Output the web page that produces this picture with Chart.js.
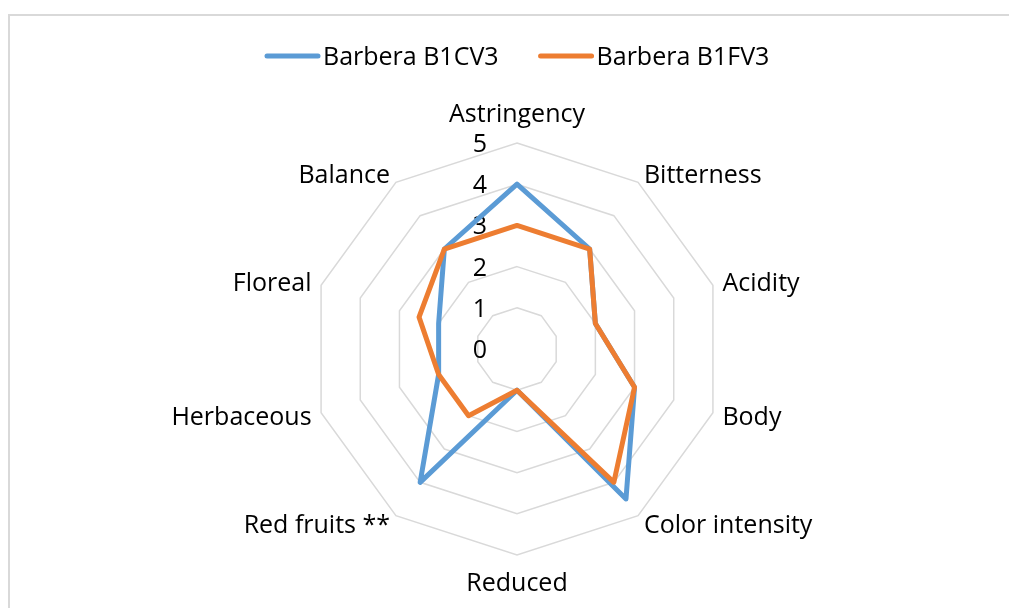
<!DOCTYPE html>
<html>
<head>
<meta charset="utf-8">
<script src="https://cdn.jsdelivr.net/npm/chart.js@4.4.1/dist/chart.umd.min.js"></script>
<style>
html,body{margin:0;padding:0;background:#fff;overflow:hidden;}
#frame{position:absolute;left:8px;top:14px;width:1100px;height:700px;border:2px solid #d9d9d9;}
#wrap{position:absolute;left:0;top:0;width:1009px;height:608px;}
</style>
</head>
<body>
<div id="frame"></div>
<div id="wrap"><canvas id="myChart"></canvas></div>
<script>
'use strict';
let attributes=['Astringency','Bitterness','Acidity','Body','Color intensity','Reduced','Red fruits **','Herbaceous','Floreal','Balance'];
let b1cv3=[4,3,2,3,4.5,1,4,2,2,3];
let b1fv3=[3,3,2,3,4,1,2,2,2.5,3];
let tickValues=[0,1,2,3,4,5];

let fontName="'Open Sans', Lato, sans-serif";
let fontSize=25;
let capHalf=9;

// tick labels left of the top axis, category labels placed like the spreadsheet does
let labelPlugin={
  id:'sheetLabels',
  beforeDatasetsDraw(chart)
  {
    let scale=chart.scales.r;
    let ctx=chart.ctx;
    ctx.save();
    ctx.font=fontSize+'px '+fontName;
    ctx.fillStyle='#000';
    ctx.textBaseline='alphabetic';
    ctx.textAlign='center';
    for(let i=0;i<tickValues.length;i++)
    {
      let d=scale.getDistanceFromCenterForValue(tickValues[i]);
      ctx.fillText(String(tickValues[i]),scale.xCenter-37,scale.yCenter-d+capHalf);
    }
    for(let i=0;i<attributes.length;i++)
    {
      let p=scale.getPointPosition(i,scale.drawingArea+10);
      let y=p.y;
      if(Math.abs(p.x-scale.xCenter)<1)
      {
        ctx.textAlign='center';
        if(p.y<scale.yCenter){y=p.y-20;}
        else{y=p.y+17;}
      }
      else if(p.x>scale.xCenter){ctx.textAlign='left';}
      else{ctx.textAlign='right';}
      ctx.fillText(attributes[i],p.x,y+capHalf);
    }
    ctx.restore();
  }
};

// legend drawn by hand: line, short gap, name
let legendPlugin={
  id:'sheetLegend',
  afterDraw(chart)
  {
    let ctx=chart.ctx;
    let x=265;
    let y=56;
    ctx.save();
    ctx.font=fontSize+'px '+fontName;
    ctx.textAlign='left';
    ctx.textBaseline='alphabetic';
    chart.data.datasets.forEach(function(ds)
    {
      ctx.strokeStyle=ds.borderColor;
      ctx.lineWidth=ds.borderWidth;
      ctx.lineCap='round';
      ctx.beginPath();
      ctx.moveTo(x+2,y);
      ctx.lineTo(x+53,y);
      ctx.stroke();
      ctx.fillStyle='#000';
      ctx.fillText(ds.label,x+58,y+capHalf);
      x=x+58+ctx.measureText(ds.label).width+40;
    });
    ctx.restore();
  }
};

let ctx=document.getElementById('myChart').getContext('2d');
let myChart=new Chart(ctx,{
  type:'radar',
  data:{
    labels:attributes,
    datasets:[{
      label:'Barbera B1CV3',
      data:b1cv3,
      borderColor:'#5B9BD5',
      backgroundColor:'#5B9BD5',
      borderWidth:5,
      borderCapStyle:'round',
      borderJoinStyle:'round',
      pointRadius:0,
      fill:false,
      order:2
    },{
      label:'Barbera B1FV3',
      data:b1fv3,
      borderColor:'#ED7D31',
      backgroundColor:'#ED7D31',
      borderWidth:5,
      borderCapStyle:'round',
      borderJoinStyle:'round',
      pointRadius:0,
      fill:false,
      order:1
    }]
  },
  options:{
    responsive:true,
    maintainAspectRatio:false,
    animation:false,
    layout:{padding:{top:143,bottom:52,left:25,right:0}},
    plugins:{
      legend:{display:false},
      tooltip:{enabled:false}
    },
    scales:{
      r:{
        min:0,
        max:5,
        beginAtZero:true,
        angleLines:{display:false},
        grid:{color:'#d9d9d9',lineWidth:1.5},
        ticks:{display:false,stepSize:1},
        pointLabels:{display:false}
      }
    }
  },
  plugins:[labelPlugin,legendPlugin]
});
</script>
</body>
</html>
